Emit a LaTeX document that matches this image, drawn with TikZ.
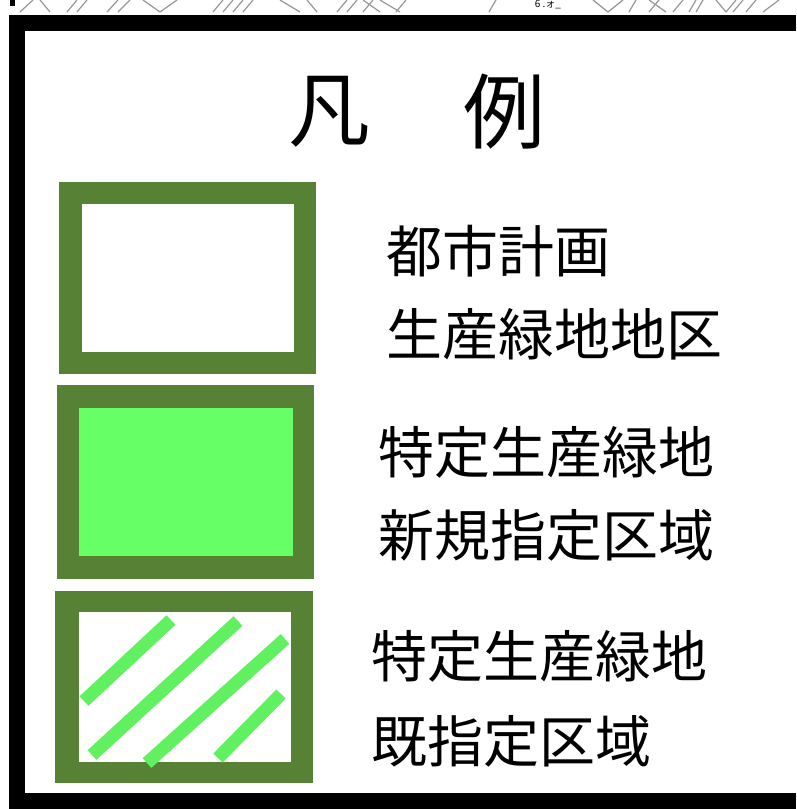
\documentclass[tikz,border=0pt]{standalone}
\usepackage{fontspec}
\newfontfamily\cjk{Noto Sans CJK JP}
\definecolor{darkgrn}{RGB}{87,130,54}
\definecolor{lightgrn}{RGB}{102,255,102}
\definecolor{stripegrn}{RGB}{96,240,96}
\definecolor{mapgray}{RGB}{150,150,150}
\begin{document}
\begin{tikzpicture}[x=1pt,y=-1pt,
  frame/.style={fill=black},
  outerbox/.style={fill=darkgrn},
  stripe/.style={draw=stripegrn,line width=13pt,line cap=butt},
  maplines/.style={draw=mapgray,line width=1.2pt},
  label/.style={anchor=west,inner sep=0pt,font=\cjk\fontsize{56}{56}\selectfont},
  titlechar/.style={anchor=center,inner sep=0pt,font=\cjk\fontsize{82}{82}\selectfont}]
\useasboundingbox (0,0) rectangle (796,809);
\fill[white] (0,0) rectangle (796,809);
% map fragments above the frame
\fill[black] (10,0) rectangle (15,6);
\foreach \a/\b in {20/33,67/77,77/87,107/118,118/130,213/223,223/233,233/243,243/253,337/347,347/357,363/373,396/406,489/496,629/636,649/659,673/683,689/696,696/703,733/743,746/756,763/779}
  \draw[maplines] (\a,12) -- (\b,0);
\foreach \a/\b in {40/50,143/160,280/300,307/317,363/380,380/400,593/608,649/666,716/726}
  \draw[maplines] (\a,0) -- (\b,12);
\draw[maplines] (160,12) -- (177,0);
\draw[maplines] (608,12) -- (623,0);
\draw[maplines] (726,12) -- (736,0);
\node[inner sep=0pt,font=\cjk\fontsize{10}{10}\selectfont] (frag) at (548,5) {6 .ォ\_};
% black frame
\draw[gray!60,line width=0.8pt] (9,15) -- (796,15);
\fill[frame] (9,15) rectangle (796,31);
\fill[frame] (9,15) rectangle (25,809);
\fill[frame] (9,793) rectangle (796,809);
% title
\node[titlechar] (t1) at (329,112) {凡};
\node[titlechar] (t2) at (504,112) {例};
% box 1
\fill[outerbox] (59,182) rectangle (316,374);
\fill[white] (82,204) rectangle (294,352);
% box 2
\fill[outerbox] (57,385) rectangle (314,579);
\fill[lightgrn] (79,408) rectangle (293,556);
% box 3
\fill[outerbox] (55,591) rectangle (313,783);
\fill[white] (79,612) rectangle (291,762);
\draw[stripe] (84,701) -- (171,620);
\draw[stripe] (92,755) -- (238,621);
\draw[stripe] (147,763) -- (285,639);
\draw[stripe] (218,758) -- (281,694);
% labels
\node[label] (l1) at (386,251) {都市計画};
\node[label] (l2) at (386,334) {生産緑地地区};
\node[label] (l3) at (378,452) {特定生産緑地};
\node[label] (l4) at (378,535) {新規指定区域};
\node[label] (l5) at (371,656) {特定生産緑地};
\node[label] (l6) at (371,741) {既指定区域};
\end{tikzpicture}
\end{document}
